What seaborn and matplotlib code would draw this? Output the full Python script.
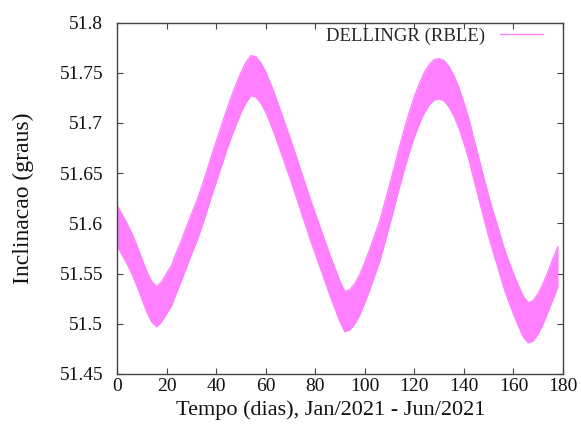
import matplotlib
matplotlib.use("Agg")
import matplotlib.pyplot as plt
import seaborn as sns
import pandas as pd
from matplotlib.lines import Line2D

# ---- data (centre of the fast-oscillation band) ----
days = [0, 2, 4, 6, 8, 10, 12, 14, 16, 18, 20, 22, 24, 26, 28, 30, 32, 34,
        36, 38, 40, 42, 44, 46, 48, 50, 52, 54, 56, 58, 60, 62, 64, 66, 68,
        70, 72, 74, 76, 78, 80, 82, 84, 86, 88, 90, 92, 94, 96, 98, 100, 102,
        104, 106, 108, 110, 112, 114, 116, 118, 120, 122, 124, 126, 128, 130,
        132, 134, 136, 138, 140, 142, 144, 146, 148, 150, 152, 154, 156, 158,
        160, 162, 164, 166, 168, 170, 172, 174, 176, 178]
center = [51.598, 51.589, 51.580, 51.570, 51.558, 51.545, 51.532, 51.522,
          51.517, 51.522, 51.530, 51.538, 51.551, 51.563, 51.576, 51.589,
          51.601, 51.615, 51.630, 51.646, 51.661, 51.676, 51.691, 51.705,
          51.718, 51.730, 51.740, 51.747, 51.746, 51.740, 51.731, 51.719,
          51.706, 51.692, 51.678, 51.664, 51.649, 51.634, 51.619, 51.604,
          51.590, 51.576, 51.562, 51.548, 51.535, 51.522, 51.512, 51.514,
          51.520, 51.529, 51.541, 51.554, 51.568, 51.582, 51.600, 51.618,
          51.637, 51.656, 51.674, 51.691, 51.706, 51.719, 51.730, 51.738,
          51.743, 51.744, 51.742, 51.736, 51.727, 51.715, 51.700, 51.684,
          51.664, 51.645, 51.626, 51.607, 51.590, 51.574, 51.557, 51.543,
          51.530, 51.518, 51.507, 51.501, 51.503, 51.510, 51.520, 51.532,
          51.545, 51.557]
halfwidth = [0.020] * len(days)
upper = [c + h for c, h in zip(center, halfwidth)]
lower = [c - h for c, h in zip(center, halfwidth)]

series_label = "DELLINGR (RBLE)"
x_ticks = [0, 20, 40, 60, 80, 100, 120, 140, 160, 180]
y_ticks = [51.45, 51.5, 51.55, 51.6, 51.65, 51.7, 51.75, 51.8]
y_tick_labels = ["51.45", "51.5", "51.55", "51.6", "51.65", "51.7", "51.75", "51.8"]

color = "#ff80ff"

sns.set_theme(style="white")
plt.rcParams["font.family"] = ["Liberation Serif", "DejaVu Serif"]

df = pd.DataFrame({"day": days, "upper": upper, "lower": lower})

fig = plt.figure(figsize=(5.81, 4.33), dpi=100)
ax = fig.add_axes([0.2014, 0.1363, 0.7676, 0.8117])

ax.fill_between(df["day"], df["lower"], df["upper"], color=color, linewidth=0)
sns.lineplot(data=df, x="day", y="upper", ax=ax, color=color, linewidth=1.0)
sns.lineplot(data=df, x="day", y="lower", ax=ax, color=color, linewidth=1.0)

ax.set_xlim(0, 180)
ax.set_ylim(51.45, 51.8)
ax.set_xticks(x_ticks)
ax.set_xticklabels([str(v) for v in x_ticks])
ax.set_yticks(y_ticks)
ax.set_yticklabels(y_tick_labels)

ax.tick_params(axis="both", which="both", direction="in", length=4, width=0.8,
               color="#444444", labelsize=14, labelcolor="#111111",
               top=True, right=True, bottom=True, left=True)
ax.tick_params(axis="y", pad=10)
ax.tick_params(axis="x", pad=3)
for s in ax.spines.values():
    s.set_color("#444444")
    s.set_linewidth(1.0)

ax.set_xlabel("Tempo (dias), Jan/2021 - Jun/2021", fontsize=16, color="#111111", labelpad=4)
ax.xaxis.set_label_coords(0.479, -0.075)
ax.set_ylabel("Inclinacao (graus)", fontsize=17, color="#111111", labelpad=18)

handle = Line2D([], [], color=color, linewidth=1.0)
leg = ax.legend([handle], [series_label], loc="upper right", frameon=False,
                markerfirst=False, fontsize=13.5, handlelength=2.3,
                borderaxespad=0.0, handletextpad=0.8,
                bbox_to_anchor=(0.972, 1.008))

fig.savefig("out.png", dpi=100)
